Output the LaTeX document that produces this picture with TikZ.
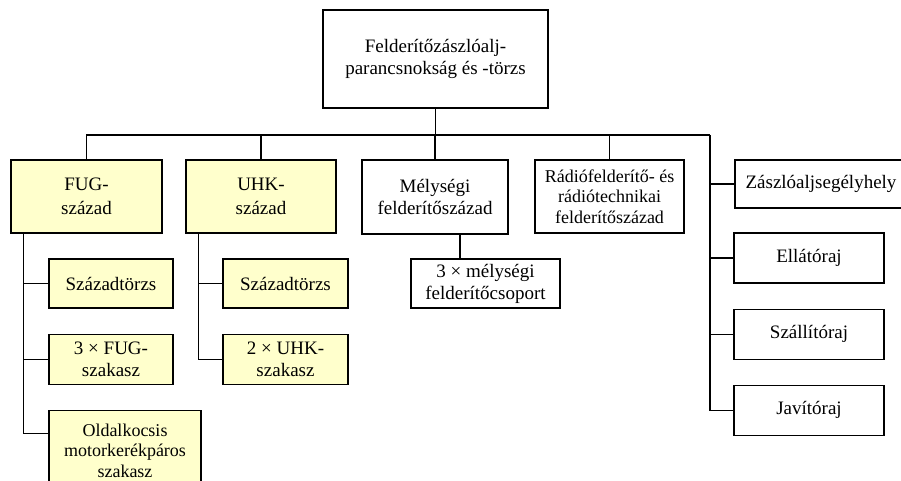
\documentclass[tikz,border=0pt]{standalone}
\usepackage{fontspec}
\setmainfont{Liberation Serif}
\usetikzlibrary{positioning}
\definecolor{halvanysarga}{HTML}{FFFFCC}

\begin{document}
\begin{tikzpicture}[x=1pt,y=-1pt,
  doboz/.style={draw,line width=1.1pt,inner sep=0pt,align=center,
    font=\fontsize{19}{22}\selectfont},
  sarga/.style={doboz,fill=halvanysarga},
  kisbetu/.style={font=\fontsize{18}{20.5}\selectfont},
  vonal/.style={line width=1.1pt}]
\useasboundingbox (0,0) rectangle (901,481);

% parancsnokság
\node[doboz,minimum width=225pt,minimum height=98pt](zlj) at (435.5,59){Felderítőzászlóalj-\\parancsnokság és -törzs};

% századok
\node[sarga,minimum width=151pt,minimum height=73pt,font=\fontsize{19}{24}\selectfont](fug) at (86.5,196.5){FUG-\\század};
\node[sarga,minimum width=150pt,minimum height=73pt,font=\fontsize{19}{24}\selectfont](uhk) at (261,196.5){UHK-\\század};
\node[doboz,minimum width=146pt,minimum height=74pt](mely) at (435,197){Mélységi\\felderítőszázad};
\node[doboz,kisbetu,minimum width=149pt,minimum height=73pt](radio) at (609.5,196.5){Rádiófelderítő- és\\rádiótechnikai\\felderítőszázad};

% kiszolgálók
\node[doboz,minimum width=172pt,minimum height=48pt](zeh) at (821,184){Zászlóaljsegélyhely};
\node[doboz,minimum width=150pt,minimum height=50pt](ellato) at (809,258){Ellátóraj};
\node[doboz,minimum width=150pt,minimum height=50pt,below=25pt of ellato](szallito){Szállítóraj};
\node[doboz,minimum width=150pt,minimum height=50pt,below=25pt of szallito](javito){Javítóraj};

% alegységek
\node[sarga,minimum width=124pt,minimum height=49pt](fugtorzs) at (111,283.5){Századtörzs};
\node[sarga,minimum width=124pt,minimum height=50pt,below=25pt of fugtorzs](fugszakasz){3 × FUG-\\szakasz};
\node[sarga,kisbetu,minimum width=152pt,minimum height=81pt,below=25pt of fugszakasz.south west,anchor=north west](oldal){Oldalkocsis\\motorkerékpáros\\szakasz};
\node[sarga,minimum width=125pt,minimum height=49pt](uhktorzs) at (285.5,283.5){Századtörzs};
\node[sarga,minimum width=125pt,minimum height=50pt,below=25pt of uhktorzs](uhkszakasz){2 × UHK-\\szakasz};
\node[doboz,minimum width=149pt,minimum height=49pt](melycsop) at (485.5,283.5){3 × mélységi\\felderítőcsoport};

% vonalak
\coordinate (busR) at (710,135);
\draw[vonal] (zlj) -- (zlj |- busR);
\draw[vonal] (fug) |- (busR);
\draw[vonal] (uhk) -- (uhk |- busR);
\draw[vonal] (mely) -- (mely |- busR);
\draw[vonal] (radio) -- (radio |- busR);
\draw[vonal] (busR) |- (javito);
\draw[vonal] (zeh) -- (zeh -| busR);
\draw[vonal] (ellato) -- (ellato -| busR);
\draw[vonal] (szallito) -- (szallito -| busR);

\coordinate (fugvonal) at ([xshift=13pt]fug.south west);
\coordinate (oldalbe) at ([yshift=-24pt]oldal.north west);
\draw[vonal] (fugvonal) |- (oldalbe);
\draw[vonal] (fugtorzs) -- (fugtorzs -| fugvonal);
\draw[vonal] (fugszakasz) -- (fugszakasz -| fugvonal);

\coordinate (uhkvonal) at ([xshift=13pt]uhk.south west);
\draw[vonal] (uhkvonal) |- (uhkszakasz);
\draw[vonal] (uhktorzs) -- (uhktorzs -| uhkvonal);

\coordinate (melyvonal) at ([xshift=25pt]mely.south);
\draw[vonal] (melyvonal) -- (melyvonal |- melycsop.north);
\end{tikzpicture}
\end{document}
